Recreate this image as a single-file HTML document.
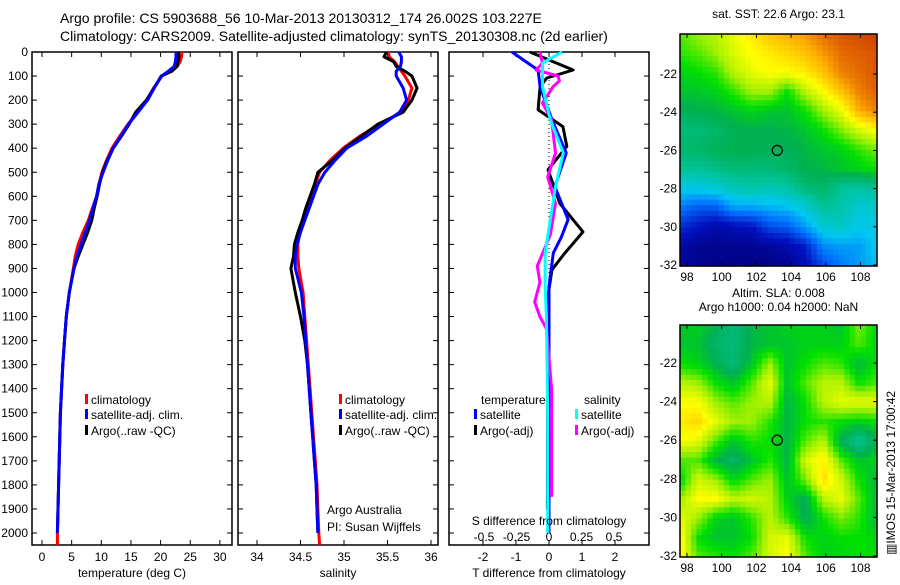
<!DOCTYPE html>
<html><head><meta charset="utf-8"><style>
body{margin:0;background:#fff}
svg text{font-family:"Liberation Sans",sans-serif;font-size:12px;fill:#000}
</style></head><body>
<svg id="c" width="900" height="580" viewBox="0 0 900 580">
<text x="60" y="23" style="font-size:14px">Argo profile: CS 5903688_56 10-Mar-2013 20130312_174 26.002S 103.227E</text>
<text x="60" y="41" style="font-size:14px">Climatology: CARS2009. Satellite-adjusted climatology: synTS_20130308.nc (2d earlier)</text>
<g id="g"></g>
</svg>
<script>
const depths=[0,20,40,60,80,100,150,200,250,300,350,400,450,500,550,600,650,700,750,800,850,900,1000,1100,1200,1300,1400,1500,1600,1700,1800,1900,2000,2050];
const tClim=[23.6,23.5,23.3,22.8,21.5,20.2,18.8,17.7,16.2,14.5,13.1,11.8,10.9,10.1,9.6,9.2,8.5,7.8,6.9,6.1,5.6,5.3,4.6,4.1,3.8,3.5,3.3,3.1,3.0,2.9,2.8,2.7,2.6,2.6];
const tSat=[22.6,22.6,22.5,22.3,21.3,20.2,18.9,17.8,16.2,14.6,13.3,12.0,11.1,10.3,9.6,9.2,8.6,8.0,7.3,6.6,5.9,5.4,4.6,4.1,3.8,3.5,3.3,3.1,3.0,2.9,2.8,2.7,2.6,null];
const tArgo=[23.0,23.1,22.9,22.8,21.9,20.1,18.9,17.6,15.8,14.7,13.4,12.0,11.0,10.2,9.7,9.3,8.8,8.4,7.7,6.9,6.1,5.4,4.6,4.1,3.8,3.5,3.3,3.1,3.0,2.9,2.8,2.7,2.6,null];
const sClim=[35.51,35.52,35.58,35.62,35.66,35.70,35.78,35.74,35.66,35.41,35.18,34.99,34.84,34.72,34.67,34.63,34.58,34.53,34.49,34.47,34.47,34.48,34.53,34.55,34.57,34.59,34.61,34.63,34.65,34.67,34.69,34.70,34.71,34.72];
const sSat=[35.63,35.66,35.66,35.65,35.6,35.60,35.68,35.72,35.64,35.45,35.26,35.03,34.9,34.78,34.7,34.65,34.6,34.55,34.5,34.46,34.44,34.44,34.51,34.54,34.56,34.58,34.60,34.62,34.64,34.66,34.68,34.69,34.70,null];
const sArgo=[35.49,35.46,35.57,35.6,35.7,35.78,35.84,35.78,35.68,35.39,35.2,35.01,34.87,34.7,34.66,34.61,34.56,34.52,34.47,34.43,34.42,34.39,34.44,34.50,34.55,34.58,34.60,34.62,34.64,34.66,34.68,34.69,34.70,null];
const dTSatDepth=[0,46,75,145,282,420,560,697,768,836,975,1200,1600,2000];
const dTSat=[-1.12,-0.64,-0.33,-0.27,0.09,0.52,0.18,0.58,0.38,0.13,0,0,0,0];
const dTArgoDepth=[0,75,108,145,240,310,392,490,630,748,836,905,1040,1400,1900];
const dTArgo=[-0.58,0.73,-0.07,-0.27,-0.33,0.42,0.54,-0.03,0.33,1.03,0.48,0.09,-0.06,-0.04,-0.05];
const dSSatDepth=[0,46,145,282,420,560,697,836,975,1100,1500,2000];
const dSSat=[0.1,-0.05,-0.05,0.01,0.11,0.05,0.01,-0.03,-0.03,-0.02,-0.01,-0.01];
const dSArgoDepth=[0,46,75,100,120,145,212,282,420,520,630,760,890,958,1040,1100,1150,1400,1850];
const dSArgo=[-0.07,-0.05,-0.1,0.07,0.08,0.03,-0.05,0.02,0.05,-0.01,0.05,0.01,-0.09,-0.07,-0.11,-0.07,-0.02,0.02,0.02];
const depthTicks=[0,100,200,300,400,500,600,700,800,900,1000,1100,1200,1300,1400,1500,1600,1700,1800,1900,2000];
const tTicks=[0,5,10,15,20,25,30];
const sTicks=[34,34.5,35,35.5,36];
const sTickLabels=['34','34.5','35','35.5','36'];
const dTTicks=[-2,-1,0,1,2];
const dSTicks=[-0.5,-0.25,0,0.25,0.5];
const dSTickLabels=['-0.5','-0.25','0','0.25','0.5'];
const sst=[
[0.66,0.7,0.72,0.76,0.8,0.84,0.86,0.88,0.92,0.94,0.95,0.96],
[0.64,0.66,0.7,0.75,0.78,0.8,0.82,0.84,0.88,0.92,0.93,0.94],
[0.6,0.62,0.64,0.72,0.76,0.78,0.78,0.8,0.84,0.9,0.92,0.94],
[0.58,0.58,0.6,0.64,0.7,0.7,0.62,0.72,0.78,0.84,0.9,0.93],
[0.54,0.55,0.56,0.58,0.6,0.58,0.58,0.62,0.7,0.76,0.86,0.9],
[0.5,0.5,0.52,0.54,0.55,0.55,0.56,0.58,0.62,0.68,0.74,0.78],
[0.52,0.52,0.54,0.55,0.55,0.54,0.54,0.56,0.58,0.6,0.64,0.68],
[0.46,0.46,0.48,0.5,0.5,0.5,0.52,0.55,0.56,0.58,0.6,0.62],
[0.36,0.36,0.38,0.42,0.44,0.42,0.44,0.5,0.52,0.46,0.44,0.46],
[0.26,0.22,0.22,0.3,0.3,0.32,0.34,0.38,0.46,0.44,0.38,0.4],
[0.16,0.12,0.08,0.1,0.12,0.2,0.22,0.3,0.38,0.4,0.36,0.36],
[0.08,0.04,0.04,0.04,0.04,0.06,0.08,0.14,0.28,0.3,0.3,0.36],
[0.06,0.04,0.02,0.02,0.02,0.02,0.04,0.1,0.2,0.26,0.3,0.34]];
const sla=[
[0.58,0.6,0.55,0.5,0.56,0.58,0.6,0.6,0.6,0.58,0.68,0.6],
[0.58,0.58,0.52,0.5,0.56,0.58,0.58,0.6,0.6,0.6,0.66,0.6],
[0.62,0.6,0.55,0.5,0.58,0.7,0.58,0.62,0.66,0.64,0.56,0.62],
[0.72,0.7,0.62,0.58,0.66,0.76,0.58,0.66,0.72,0.72,0.62,0.66],
[0.78,0.78,0.7,0.66,0.7,0.72,0.56,0.62,0.72,0.76,0.76,0.76],
[0.8,0.82,0.76,0.7,0.7,0.64,0.56,0.62,0.64,0.62,0.6,0.62],
[0.78,0.76,0.66,0.58,0.64,0.62,0.56,0.66,0.72,0.54,0.46,0.54],
[0.66,0.66,0.56,0.52,0.58,0.64,0.56,0.74,0.8,0.66,0.58,0.6],
[0.6,0.74,0.7,0.6,0.66,0.7,0.58,0.68,0.82,0.74,0.62,0.56],
[0.7,0.78,0.78,0.72,0.74,0.72,0.6,0.54,0.72,0.76,0.66,0.56],
[0.76,0.7,0.6,0.58,0.64,0.72,0.64,0.54,0.62,0.68,0.64,0.56],
[0.8,0.62,0.58,0.58,0.62,0.74,0.76,0.62,0.6,0.62,0.62,0.6],
[0.8,0.66,0.64,0.62,0.66,0.74,0.78,0.66,0.6,0.6,0.62,0.62]];
const latTicks=[-22,-24,-26,-28,-30,-32];
const lonTicks=[98,100,102,104,106,108];
const argoLon=103.2, argoLat=-26.0;

const NS='http://www.w3.org/2000/svg';
const G=document.getElementById('g');
function el(t,a,p){const e=document.createElementNS(NS,t);for(const k in a)e.setAttribute(k,a[k]);(p||G).appendChild(e);return e;}
const Y0=52,Y1=545;
const yD=d=>Y0+d*0.2405;
const xT=v=>42+v*5.93;
const xS=v=>257+(v-34)*87;
const xDT=v=>549+v*33;
const xDS=v=>549+v*130;

function frame(x0,x1,name){
  const r=el('rect',{x:x0,y:Y0,width:x1-x0,height:Y1-Y0,fill:'none',stroke:'#000','stroke-width':1.5});
  
  
}
function line(xs,ds,xf,color,name,w){
  let d='',started=false;
  for(let i=0;i<xs.length;i++){if(xs[i]==null)continue;d+=(started?'L':'M')+xf(xs[i]).toFixed(1)+' '+yD(ds[i]).toFixed(1);started=true;}
  const p=el('path',{d:d,fill:'none',stroke:color,'stroke-width':w||3,'stroke-linejoin':'round'});
  
  
}
function txt(x,y,s,anchor,name,extra){
  const t=el('text',Object.assign({x:x,y:y,'text-anchor':anchor||'start'},extra||{}));t.textContent=s;
  
  
  return t;
}
function xticks(vals,labels,xf,name){
  vals.forEach((v,i)=>{const x=xf(v);
    el('line',{x1:x,x2:x,y1:Y0,y2:Y0+5,stroke:'#000'});
    el('line',{x1:x,x2:x,y1:Y1,y2:Y1-5,stroke:'#000'});
    txt(x,561,labels[i],'middle',name);});
}
// panel 1
frame(32,232,'temperature-panel');
depthTicks.forEach(d=>{const y=yD(d);el('line',{x1:32,x2:37,y1:y,y2:y,stroke:'#000'});el('line',{x1:227,x2:232,y1:y,y2:y,stroke:'#000'});txt(28,y+4,String(d),'end','depth-tick-label');});
xticks(tTicks,tTicks.map(String),xT,'temperature-tick-label');
line(tClim,depths,xT,'#f00','temp-climatology-line');
line(tArgo,depths,xT,'#000','temp-argo-line');
line(tSat,depths,xT,'#00f','temp-satellite-line');
txt(132,577,'temperature (deg C)','middle','temperature-axis-title');
// panel 2
frame(238,438,'salinity-panel');
depthTicks.forEach(d=>{const y=yD(d);el('line',{x1:238,x2:243,y1:y,y2:y,stroke:'#000'});el('line',{x1:433,x2:438,y1:y,y2:y,stroke:'#000'});});
xticks(sTicks,sTickLabels,xS,'salinity-tick-label');
line(sClim,depths,xS,'#f00','sal-climatology-line');
line(sArgo,depths,xS,'#000','sal-argo-line');
line(sSat,depths,xS,'#00f','sal-satellite-line');
txt(338,577,'salinity','middle','salinity-axis-title');
txt(327,514,'Argo Australia','start','credit-argo-australia');
txt(327,531,'PI: Susan Wijffels','start','credit-pi');
// panel 3
frame(449,649,'difference-panel');
depthTicks.forEach(d=>{const y=yD(d);el('line',{x1:449,x2:454,y1:y,y2:y,stroke:'#000'});el('line',{x1:644,x2:649,y1:y,y2:y,stroke:'#000'});});
xticks(dTTicks,dTTicks.map(String),xDT,'t-diff-tick-label');
dSTicks.forEach((v,i)=>txt(xDS(v),541,dSTickLabels[i],'middle','s-diff-tick-label'));
el('line',{x1:549,x2:549,y1:Y0,y2:yD(1000),stroke:'#000','stroke-dasharray':'1,3'});
line(dTArgo,dTArgoDepth,xDT,'#000','t-diff-argo-line');
line(dTSat,dTSatDepth,xDT,'#00f','t-diff-satellite-line');
line(dSArgo,dSArgoDepth,xDS,'#f0f','s-diff-argo-line');
line(dSSat,dSSatDepth,xDS,'#0ff','s-diff-satellite-line');
txt(549,525,'S difference from climatology','middle','s-diff-axis-title');
txt(549,577,'T difference from climatology','middle','t-diff-axis-title');
// legends
function leg(x,y,c,s,name){const r=el('rect',{x:x,y:y-10,width:3,height:10,fill:c});txt(x+6,y,s,'start',name);}
[[85,'temperature-legend'],[339,'salinity-legend']].forEach(([x,n])=>{
  leg(x,404,'#f00','climatology',n+'-climatology');
  leg(x,419,'#00f','satellite-adj. clim.',n+'-satellite');
  leg(x,435,'#000','Argo(..raw -QC)',n+'-argo');});
txt(481,404,'temperature','start','diff-legend-temperature-heading');
txt(584,404,'salinity','start','diff-legend-salinity-heading');
leg(474,419,'#00f','satellite','diff-legend-t-satellite');
leg(474,435,'#000','Argo(-adj)','diff-legend-t-argo');
leg(575,419,'#0ff','satellite','diff-legend-s-satellite');
leg(575,435,'#f0f','Argo(-adj)','diff-legend-s-argo');
// colour map
const stops=[[0,0,0,122],[0.12,0,16,192],[0.25,0,112,255],[0.35,0,200,240],[0.45,0,196,160],[0.55,0,176,80],[0.62,0,224,0],[0.7,160,240,0],[0.78,255,255,0],[0.86,255,176,0],[0.93,224,96,0],[1,176,16,0]];
function cmap(v){v=Math.max(0,Math.min(1,v));for(let i=1;i<stops.length;i++){if(v<=stops[i][0]){const a=stops[i-1],b=stops[i],f=(v-a[0])/(b[0]-a[0]);return 'rgb('+[1,2,3].map(k=>Math.round(a[k]+(b[k]-a[k])*f)).join(',')+')';}}return 'rgb(176,16,0)';}
function sample(grid,r,c){const R=grid.length-1,C=grid[0].length-1;const y=r*R,x=c*C;const i=Math.min(R-1,Math.floor(y)),j=Math.min(C-1,Math.floor(x));const fy=y-i,fx=x-j;
  return grid[i][j]*(1-fx)*(1-fy)+grid[i][j+1]*fx*(1-fy)+grid[i+1][j]*(1-fx)*fy+grid[i+1][j+1]*fx*fy;}
function map(grid,x0,y0,w,h,name,latAt22,pxPerDeg,title1,title2){
  const g=el('g',{});
  const nc=36,nr=42,cw=w/nc,ch=h/nr;
  for(let r=0;r<nr;r++)for(let c=0;c<nc;c++){
    el('rect',{x:(x0+c*cw).toFixed(2),y:(y0+r*ch).toFixed(2),width:(cw+0.6).toFixed(2),height:(ch+0.6).toFixed(2),fill:cmap(sample(grid,(r+0.5)/nr,(c+0.5)/nc))},g);}
  const r=el('rect',{x:x0,y:y0,width:w,height:h,fill:'none',stroke:'#000','stroke-width':1.5});
  const lx=v=>687+(v-98)*17.35, ly=v=>latAt22+(-22-v)*pxPerDeg;
  lonTicks.forEach(v=>{el('line',{x1:lx(v),x2:lx(v),y1:y0,y2:y0+4,stroke:'#000'});el('line',{x1:lx(v),x2:lx(v),y1:y0+h,y2:y0+h-4,stroke:'#000'});txt(lx(v),y0+h+15,String(v),'middle',name+'-lon-label');});
  latTicks.forEach(v=>{el('line',{x1:x0+w,x2:x0+w-4,y1:ly(v),y2:ly(v),stroke:'#000'});txt(x0-3,ly(v)+4,String(v),'end',name+'-lat-label');});
  const ci=el('circle',{cx:lx(argoLon),cy:ly(argoLat),r:5,fill:'none',stroke:'#000','stroke-width':1.3});
  
  if(title1)txt(x0+w/2,title2?y0-28:y0-16,title1,'middle',name+'-title');
  if(title2)txt(x0+w/2,y0-14,title2,'middle',name+'-subtitle');
}
map(sst,680,34,197,232,'sst-map',74,19.1,'sat. SST: 22.6 Argo: 23.1',null);
map(sla,680,325,197,232,'sla-map',363,19.3,'Altim. SLA: 0.008','Argo h1000: 0.04 h2000: NaN');
txt(0,0,'\u25a5IMOS 15-Mar-2013 17:00:42','start','imos-timestamp',{transform:'translate(895,555) rotate(-90)'});
</script>
</body></html>
